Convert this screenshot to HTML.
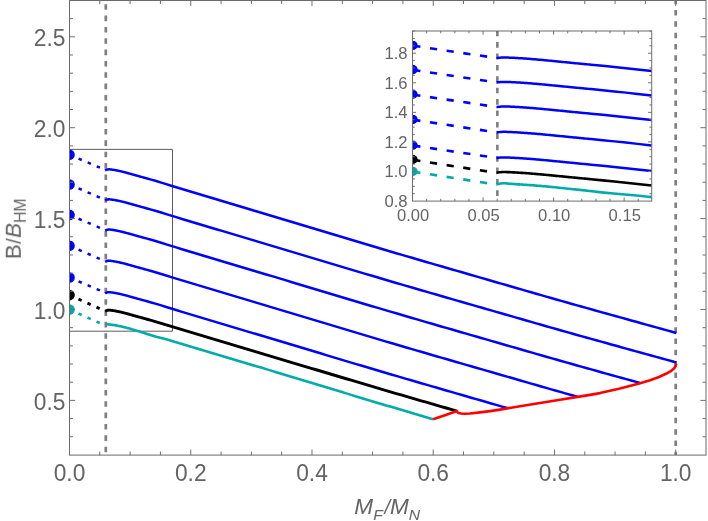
<!DOCTYPE html>
<html><head><meta charset="utf-8"><title>plot</title>
<style>html,body{margin:0;padding:0;background:#fff;}body{width:708px;height:521px;overflow:hidden;position:relative;font-family:"Liberation Sans",sans-serif;}</style></head>
<body>
<svg width="708" height="521" viewBox="0 0 708 521" style="position:absolute;left:0;top:0;font-family:'Liberation Sans',sans-serif">
<rect x="0" y="0" width="708" height="521" fill="#fff"/>
<defs><clipPath id="cm"><rect x="69.5" y="0.5" width="636.5" height="454.6"/></clipPath>
<clipPath id="ci"><rect x="412.5" y="31.0" width="239.20000000000005" height="170.1"/></clipPath></defs>
<g clip-path="url(#cm)" fill="none" stroke-linejoin="round">
<path d="M105.8,4.2 V455.1" stroke="#7f7f7f" stroke-width="2.7" stroke-dasharray="5.6 5.745"/>
<path d="M675.7,-1.36 V455.1" stroke="#7f7f7f" stroke-width="2.7" stroke-dasharray="5.5 5.83"/>
<rect x="64.5" y="149.4" width="108.0" height="181.79999999999998" stroke="#4a4a4a" stroke-width="0.9"/>
<path d="M105.20,170.48 L105.70,170.16 L106.20,169.90 L106.70,169.70 L107.20,169.55 L107.70,169.44 L108.20,169.38 L108.70,169.35 L109.20,169.34 L109.70,169.36 L110.20,169.40 L110.70,169.45 L111.20,169.52 L111.70,169.59 L112.20,169.66 L112.70,169.73 L113.20,169.81 L113.70,169.89 L114.20,169.97 L114.70,170.06 L115.20,170.14 L115.70,170.23 L116.20,170.32 L116.70,170.42 L117.20,170.52 L117.70,170.62 L118.20,170.72 L118.70,170.82 L119.20,170.93 L119.70,171.04 L120.20,171.15 L120.70,171.27 L121.20,171.39 L121.70,171.51 L122.20,171.63 L122.70,171.75 L123.20,171.88 L123.70,172.00 L124.20,172.13 L124.70,172.26 L125.20,172.40 L125.70,172.53 L126.20,172.66 L126.70,172.80 L127.20,172.94 L127.70,173.07 L128.20,173.21 L128.70,173.35 L129.20,173.49 L129.70,173.63 L130.20,173.77 L130.70,173.91 L131.20,174.05 L131.70,174.19 L132.20,174.33 L132.70,174.47 L133.20,174.61 L133.70,174.76 L134.20,174.90 L134.70,175.04 L135.20,175.18 L135.70,175.32 L136.20,175.46 L136.70,175.60 L137.20,175.74 L137.70,175.88 L138.20,176.02 L138.70,176.16 L139.20,176.30 L139.70,176.44 L140.20,176.58 L140.70,176.72 L141.20,176.85 L141.70,176.99 L142.20,177.13 L142.70,177.27 L143.20,177.40 L143.70,177.54 L144.20,177.68 L144.70,177.81 L145.20,177.95 L145.70,178.09 L146.20,178.23 L151.20,179.62 L156.20,181.07 L161.20,182.58 L166.20,184.14 L171.20,185.69 L176.20,187.23 L181.20,188.76 L186.20,190.27 L191.20,191.77 L196.20,193.27 L201.20,194.77 L206.20,196.26 L211.20,197.76 L216.20,199.26 L221.20,200.77 L226.20,202.27 L231.20,203.78 L236.20,205.28 L241.20,206.78 L246.20,208.28 L251.20,209.78 L256.20,211.27 L261.20,212.76 L266.20,214.26 L271.20,215.75 L276.20,217.25 L281.20,218.75 L286.20,220.26 L291.20,221.76 L296.20,223.27 L301.20,224.77 L306.20,226.28 L311.20,227.79 L316.20,229.29 L321.20,230.80 L326.20,232.31 L331.20,233.81 L336.20,235.31 L341.20,236.82 L346.20,238.32 L351.20,239.82 L356.20,241.31 L361.20,242.81 L366.20,244.30 L371.20,245.79 L376.20,247.27 L381.20,248.76 L386.20,250.23 L391.20,251.71 L396.20,253.18 L401.20,254.64 L406.20,256.11 L411.20,257.57 L416.20,259.03 L421.20,260.48 L426.20,261.94 L431.20,263.39 L436.20,264.84 L441.20,266.29 L446.20,267.74 L451.20,269.18 L456.20,270.63 L461.20,272.07 L466.20,273.52 L471.20,274.96 L476.20,276.40 L481.20,277.85 L486.20,279.29 L491.20,280.73 L496.20,282.18 L501.20,283.62 L506.20,285.06 L511.20,286.51 L516.20,287.95 L521.20,289.39 L526.20,290.83 L531.20,292.27 L536.20,293.72 L541.20,295.15 L546.20,296.59 L551.20,298.02 L556.20,299.44 L561.20,300.86 L566.20,302.28 L571.20,303.69 L576.20,305.10 L581.20,306.51 L586.20,307.91 L591.20,309.31 L596.20,310.70 L601.20,312.10 L606.20,313.49 L611.20,314.88 L616.20,316.27 L621.20,317.66 L626.20,319.05 L631.20,320.43 L636.20,321.82 L641.20,323.21 L646.20,324.60 L651.20,325.99 L656.20,327.38 L661.20,328.77 L666.20,330.16 L671.20,331.55 L676.20,332.94 L676.40,333.00" stroke="#0000ff" stroke-width="2.5"/>
<path d="M69.5,154.8 L105.8,170.1" stroke="#0000ff" stroke-width="2.5" stroke-dasharray="3.5 6.35" stroke-dashoffset="-9.85"/>
<circle cx="69.5" cy="154.8" r="5.3" fill="#0000ff" stroke="none"/>
<path d="M105.20,200.48 L105.70,200.16 L106.20,199.90 L106.70,199.70 L107.20,199.55 L107.70,199.44 L108.20,199.38 L108.70,199.35 L109.20,199.34 L109.70,199.36 L110.20,199.40 L110.70,199.45 L111.20,199.52 L111.70,199.59 L112.20,199.66 L112.70,199.73 L113.20,199.81 L113.70,199.89 L114.20,199.97 L114.70,200.06 L115.20,200.14 L115.70,200.23 L116.20,200.32 L116.70,200.42 L117.20,200.51 L117.70,200.61 L118.20,200.72 L118.70,200.82 L119.20,200.93 L119.70,201.04 L120.20,201.15 L120.70,201.26 L121.20,201.38 L121.70,201.50 L122.20,201.62 L122.70,201.75 L123.20,201.87 L123.70,202.00 L124.20,202.13 L124.70,202.26 L125.20,202.39 L125.70,202.52 L126.20,202.65 L126.70,202.79 L127.20,202.93 L127.70,203.06 L128.20,203.20 L128.70,203.34 L129.20,203.48 L129.70,203.62 L130.20,203.75 L130.70,203.89 L131.20,204.04 L131.70,204.18 L132.20,204.32 L132.70,204.46 L133.20,204.60 L133.70,204.74 L134.20,204.88 L134.70,205.02 L135.20,205.16 L135.70,205.30 L136.20,205.44 L136.70,205.59 L137.20,205.72 L137.70,205.86 L138.20,206.00 L138.70,206.14 L139.20,206.28 L139.70,206.42 L140.20,206.56 L140.70,206.69 L141.20,206.83 L141.70,206.97 L142.20,207.10 L142.70,207.24 L143.20,207.38 L143.70,207.51 L144.20,207.65 L144.70,207.79 L145.20,207.92 L145.70,208.06 L146.20,208.20 L151.20,209.59 L156.20,211.03 L161.20,212.54 L166.20,214.09 L171.20,215.64 L176.20,217.18 L181.20,218.70 L186.20,220.21 L191.20,221.70 L196.20,223.20 L201.20,224.69 L206.20,226.18 L211.20,227.68 L216.20,229.18 L221.20,230.67 L226.20,232.17 L231.20,233.67 L236.20,235.17 L241.20,236.67 L246.20,238.16 L251.20,239.66 L256.20,241.14 L261.20,242.63 L266.20,244.12 L271.20,245.62 L276.20,247.11 L281.20,248.61 L286.20,250.11 L291.20,251.60 L296.20,253.11 L301.20,254.61 L306.20,256.11 L311.20,257.61 L316.20,259.11 L321.20,260.62 L326.20,262.12 L331.20,263.62 L336.20,265.12 L341.20,266.62 L346.20,268.11 L351.20,269.61 L356.20,271.10 L361.20,272.59 L366.20,274.08 L371.20,275.56 L376.20,277.04 L381.20,278.52 L386.20,279.99 L391.20,281.46 L396.20,282.93 L401.20,284.39 L406.20,285.85 L411.20,287.31 L416.20,288.76 L421.20,290.21 L426.20,291.66 L431.20,293.11 L436.20,294.56 L441.20,296.00 L446.20,297.44 L451.20,298.88 L456.20,300.33 L461.20,301.76 L466.20,303.20 L471.20,304.64 L476.20,306.08 L481.20,307.52 L486.20,308.96 L491.20,310.40 L496.20,311.84 L501.20,313.28 L506.20,314.71 L511.20,316.15 L516.20,317.59 L521.20,319.03 L526.20,320.47 L531.20,321.90 L536.20,323.34 L541.20,324.77 L546.20,326.20 L551.20,327.63 L556.20,329.05 L561.20,330.47 L566.20,331.88 L571.20,333.29 L576.20,334.69 L581.20,336.09 L586.20,337.49 L591.20,338.88 L596.20,340.28 L601.20,341.67 L606.20,343.05 L611.20,344.44 L616.20,345.82 L621.20,347.21 L626.20,348.59 L631.20,349.97 L636.20,351.36 L641.20,352.74 L646.20,354.12 L651.20,355.51 L656.20,356.89 L661.20,358.28 L666.20,359.67 L671.20,361.05 L676.20,362.44 L676.40,362.50" stroke="#0000ff" stroke-width="2.5"/>
<path d="M69.5,184.5 L105.8,200.1" stroke="#0000ff" stroke-width="2.5" stroke-dasharray="3.5 6.35" stroke-dashoffset="-9.85"/>
<circle cx="69.5" cy="184.5" r="5.3" fill="#0000ff" stroke="none"/>
<path d="M105.20,230.68 L105.70,230.36 L106.20,230.10 L106.70,229.90 L107.20,229.75 L107.70,229.64 L108.20,229.58 L108.70,229.55 L109.20,229.54 L109.70,229.56 L110.20,229.60 L110.70,229.65 L111.20,229.72 L111.70,229.79 L112.20,229.86 L112.70,229.93 L113.20,230.01 L113.70,230.09 L114.20,230.17 L114.70,230.26 L115.20,230.34 L115.70,230.43 L116.20,230.52 L116.70,230.62 L117.20,230.72 L117.70,230.82 L118.20,230.92 L118.70,231.02 L119.20,231.13 L119.70,231.24 L120.20,231.35 L120.70,231.47 L121.20,231.59 L121.70,231.71 L122.20,231.83 L122.70,231.95 L123.20,232.08 L123.70,232.20 L124.20,232.33 L124.70,232.46 L125.20,232.59 L125.70,232.73 L126.20,232.86 L126.70,233.00 L127.20,233.13 L127.70,233.27 L128.20,233.41 L128.70,233.55 L129.20,233.69 L129.70,233.82 L130.20,233.96 L130.70,234.11 L131.20,234.25 L131.70,234.39 L132.20,234.53 L132.70,234.67 L133.20,234.81 L133.70,234.95 L134.20,235.09 L134.70,235.24 L135.20,235.38 L135.70,235.52 L136.20,235.66 L136.70,235.80 L137.20,235.94 L137.70,236.08 L138.20,236.22 L138.70,236.36 L139.20,236.50 L139.70,236.63 L140.20,236.77 L140.70,236.91 L141.20,237.05 L141.70,237.19 L142.20,237.32 L142.70,237.46 L143.20,237.60 L143.70,237.73 L144.20,237.87 L144.70,238.01 L145.20,238.15 L145.70,238.28 L146.20,238.42 L151.20,239.81 L156.20,241.26 L161.20,242.77 L166.20,244.33 L171.20,245.88 L176.20,247.42 L181.20,248.94 L186.20,250.45 L191.20,251.96 L196.20,253.45 L201.20,254.95 L206.20,256.44 L211.20,257.94 L216.20,259.44 L221.20,260.95 L226.20,262.45 L231.20,263.95 L236.20,265.46 L241.20,266.96 L246.20,268.45 L251.20,269.95 L256.20,271.44 L261.20,272.93 L266.20,274.43 L271.20,275.92 L276.20,277.42 L281.20,278.92 L286.20,280.42 L291.20,281.93 L296.20,283.43 L301.20,284.94 L306.20,286.44 L311.20,287.95 L316.20,289.45 L321.20,290.96 L326.20,292.46 L331.20,293.97 L336.20,295.47 L341.20,296.97 L346.20,298.47 L351.20,299.97 L356.20,301.47 L361.20,302.96 L366.20,304.45 L371.20,305.94 L376.20,307.42 L381.20,308.90 L386.20,310.38 L391.20,311.85 L396.20,313.32 L401.20,314.79 L406.20,316.25 L411.20,317.71 L416.20,319.17 L421.20,320.62 L426.20,322.08 L431.20,323.53 L436.20,324.98 L441.20,326.43 L446.20,327.87 L451.20,329.32 L456.20,330.76 L461.20,332.20 L466.20,333.65 L471.20,335.09 L476.20,336.53 L481.20,337.97 L486.20,339.42 L491.20,340.86 L496.20,342.30 L501.20,343.74 L506.20,345.19 L511.20,346.63 L516.20,348.07 L521.20,349.51 L526.20,350.95 L531.20,352.39 L536.20,353.83 L541.20,355.27 L546.20,356.70 L551.20,358.13 L556.20,359.55 L561.20,360.97 L566.20,362.39 L571.20,363.80 L576.20,365.21 L581.20,366.61 L586.20,368.02 L591.20,369.41 L596.20,370.81 L601.20,372.20 L606.20,373.59 L611.20,374.98 L616.20,376.37 L621.20,377.76 L626.20,379.15 L631.20,380.53 L636.20,381.92 L640.10,383.00" stroke="#0000ff" stroke-width="2.5"/>
<path d="M69.5,214.9 L105.8,230.29999999999998" stroke="#0000ff" stroke-width="2.5" stroke-dasharray="3.5 6.35" stroke-dashoffset="-9.85"/>
<circle cx="69.5" cy="214.9" r="5.3" fill="#0000ff" stroke="none"/>
<path d="M105.20,261.88 L105.70,261.56 L106.20,261.30 L106.70,261.10 L107.20,260.95 L107.70,260.84 L108.20,260.78 L108.70,260.75 L109.20,260.74 L109.70,260.76 L110.20,260.80 L110.70,260.85 L111.20,260.92 L111.70,260.99 L112.20,261.06 L112.70,261.13 L113.20,261.21 L113.70,261.29 L114.20,261.37 L114.70,261.46 L115.20,261.54 L115.70,261.63 L116.20,261.72 L116.70,261.82 L117.20,261.92 L117.70,262.02 L118.20,262.12 L118.70,262.22 L119.20,262.33 L119.70,262.44 L120.20,262.55 L120.70,262.67 L121.20,262.79 L121.70,262.91 L122.20,263.03 L122.70,263.15 L123.20,263.28 L123.70,263.40 L124.20,263.53 L124.70,263.66 L125.20,263.79 L125.70,263.93 L126.20,264.06 L126.70,264.20 L127.20,264.33 L127.70,264.47 L128.20,264.61 L128.70,264.75 L129.20,264.89 L129.70,265.02 L130.20,265.16 L130.70,265.31 L131.20,265.45 L131.70,265.59 L132.20,265.73 L132.70,265.87 L133.20,266.01 L133.70,266.15 L134.20,266.29 L134.70,266.44 L135.20,266.58 L135.70,266.72 L136.20,266.86 L136.70,267.00 L137.20,267.14 L137.70,267.28 L138.20,267.42 L138.70,267.56 L139.20,267.70 L139.70,267.83 L140.20,267.97 L140.70,268.11 L141.20,268.25 L141.70,268.39 L142.20,268.52 L142.70,268.66 L143.20,268.80 L143.70,268.93 L144.20,269.07 L144.70,269.21 L145.20,269.34 L145.70,269.48 L146.20,269.62 L151.20,271.01 L156.20,272.46 L161.20,273.97 L166.20,275.52 L171.20,277.08 L176.20,278.62 L181.20,280.14 L186.20,281.65 L191.20,283.16 L196.20,284.65 L201.20,286.15 L206.20,287.64 L211.20,289.14 L216.20,290.64 L221.20,292.15 L226.20,293.65 L231.20,295.15 L236.20,296.66 L241.20,298.16 L246.20,299.65 L251.20,301.15 L256.20,302.64 L261.20,304.13 L266.20,305.63 L271.20,307.12 L276.20,308.62 L281.20,310.12 L286.20,311.62 L291.20,313.12 L296.20,314.63 L301.20,316.13 L306.20,317.64 L311.20,319.15 L316.20,320.65 L321.20,322.16 L326.20,323.66 L331.20,325.17 L336.20,326.67 L341.20,328.17 L346.20,329.67 L351.20,331.17 L356.20,332.67 L361.20,334.16 L366.20,335.65 L371.20,337.14 L376.20,338.62 L381.20,340.10 L386.20,341.58 L391.20,343.05 L396.20,344.52 L401.20,345.99 L406.20,347.45 L411.20,348.91 L416.20,350.37 L421.20,351.82 L426.20,353.28 L431.20,354.73 L436.20,356.18 L441.20,357.62 L446.20,359.07 L451.20,360.51 L456.20,361.96 L461.20,363.40 L466.20,364.84 L471.20,366.29 L476.20,367.73 L481.20,369.17 L486.20,370.61 L491.20,372.06 L496.20,373.50 L501.20,374.94 L506.20,376.38 L511.20,377.82 L516.20,379.27 L521.20,380.71 L526.20,382.15 L531.20,383.59 L536.20,385.03 L541.20,386.47 L546.20,387.90 L551.20,389.33 L556.20,390.75 L561.20,392.17 L566.20,393.59 L571.20,395.00 L576.20,396.41 L577.60,396.80" stroke="#0000ff" stroke-width="2.5"/>
<path d="M69.5,245.8 L105.8,261.5" stroke="#0000ff" stroke-width="2.5" stroke-dasharray="3.5 6.35" stroke-dashoffset="-9.85"/>
<circle cx="69.5" cy="245.8" r="5.3" fill="#0000ff" stroke="none"/>
<path d="M105.20,293.33 L105.70,293.01 L106.20,292.75 L106.70,292.55 L107.20,292.40 L107.70,292.29 L108.20,292.23 L108.70,292.20 L109.20,292.19 L109.70,292.21 L110.20,292.25 L110.70,292.30 L111.20,292.37 L111.70,292.44 L112.20,292.51 L112.70,292.58 L113.20,292.66 L113.70,292.74 L114.20,292.82 L114.70,292.91 L115.20,292.99 L115.70,293.08 L116.20,293.17 L116.70,293.27 L117.20,293.37 L117.70,293.47 L118.20,293.57 L118.70,293.67 L119.20,293.78 L119.70,293.89 L120.20,294.00 L120.70,294.12 L121.20,294.23 L121.70,294.35 L122.20,294.48 L122.70,294.60 L123.20,294.72 L123.70,294.85 L124.20,294.98 L124.70,295.11 L125.20,295.24 L125.70,295.38 L126.20,295.51 L126.70,295.64 L127.20,295.78 L127.70,295.92 L128.20,296.06 L128.70,296.19 L129.20,296.33 L129.70,296.47 L130.20,296.61 L130.70,296.75 L131.20,296.89 L131.70,297.03 L132.20,297.18 L132.70,297.32 L133.20,297.46 L133.70,297.60 L134.20,297.74 L134.70,297.88 L135.20,298.02 L135.70,298.16 L136.20,298.31 L136.70,298.45 L137.20,298.59 L137.70,298.73 L138.20,298.87 L138.70,299.00 L139.20,299.14 L139.70,299.28 L140.20,299.42 L140.70,299.56 L141.20,299.69 L141.70,299.83 L142.20,299.97 L142.70,300.11 L143.20,300.24 L143.70,300.38 L144.20,300.52 L144.70,300.65 L145.20,300.79 L145.70,300.93 L146.20,301.06 L151.20,302.46 L156.20,303.90 L161.20,305.42 L166.20,306.97 L171.20,308.52 L176.20,310.06 L181.20,311.58 L186.20,313.09 L191.20,314.59 L196.20,316.09 L201.20,317.58 L206.20,319.08 L211.20,320.58 L216.20,322.08 L221.20,323.58 L226.20,325.08 L231.20,326.58 L236.20,328.09 L241.20,329.59 L246.20,331.08 L251.20,332.58 L256.20,334.07 L261.20,335.56 L266.20,337.05 L271.20,338.55 L276.20,340.04 L281.20,341.54 L286.20,343.04 L291.20,344.55 L296.20,346.05 L301.20,347.55 L306.20,349.06 L311.20,350.56 L316.20,352.07 L321.20,353.57 L326.20,355.08 L331.20,356.58 L336.20,358.08 L341.20,359.58 L346.20,361.08 L351.20,362.58 L356.20,364.08 L361.20,365.57 L366.20,367.06 L371.20,368.54 L376.20,370.03 L381.20,371.51 L386.20,372.98 L391.20,374.46 L396.20,375.92 L401.20,377.39 L406.20,378.85 L411.20,380.31 L416.20,381.77 L421.20,383.22 L426.20,384.67 L431.20,386.13 L436.20,387.57 L441.20,389.02 L446.20,390.47 L451.20,391.91 L456.20,393.35 L461.20,394.80 L466.20,396.24 L471.20,397.68 L476.20,399.12 L481.20,400.56 L486.20,402.00 L491.20,403.44 L496.20,404.89 L501.20,406.33 L506.20,407.77 L507.00,408.00" stroke="#0000ff" stroke-width="2.5"/>
<path d="M69.5,277.5 L105.8,292.95" stroke="#0000ff" stroke-width="2.5" stroke-dasharray="3.5 6.35" stroke-dashoffset="-9.85"/>
<circle cx="69.5" cy="277.5" r="5.3" fill="#0000ff" stroke="none"/>
<path d="M105.20,311.28 L105.70,310.96 L106.20,310.70 L106.70,310.50 L107.20,310.35 L107.70,310.24 L108.20,310.18 L108.70,310.15 L109.20,310.14 L109.70,310.16 L110.20,310.20 L110.70,310.25 L111.20,310.32 L111.70,310.39 L112.20,310.46 L112.70,310.53 L113.20,310.61 L113.70,310.69 L114.20,310.77 L114.70,310.86 L115.20,310.94 L115.70,311.03 L116.20,311.12 L116.70,311.22 L117.20,311.31 L117.70,311.41 L118.20,311.51 L118.70,311.62 L119.20,311.73 L119.70,311.84 L120.20,311.95 L120.70,312.06 L121.20,312.18 L121.70,312.30 L122.20,312.42 L122.70,312.54 L123.20,312.67 L123.70,312.79 L124.20,312.92 L124.70,313.05 L125.20,313.18 L125.70,313.31 L126.20,313.45 L126.70,313.58 L127.20,313.72 L127.70,313.85 L128.20,313.99 L128.70,314.13 L129.20,314.27 L129.70,314.40 L130.20,314.54 L130.70,314.68 L131.20,314.82 L131.70,314.96 L132.20,315.10 L132.70,315.25 L133.20,315.39 L133.70,315.53 L134.20,315.67 L134.70,315.81 L135.20,315.95 L135.70,316.09 L136.20,316.23 L136.70,316.37 L137.20,316.51 L137.70,316.65 L138.20,316.79 L138.70,316.92 L139.20,317.06 L139.70,317.20 L140.20,317.34 L140.70,317.47 L141.20,317.61 L141.70,317.75 L142.20,317.88 L142.70,318.02 L143.20,318.16 L143.70,318.29 L144.20,318.43 L144.70,318.57 L145.20,318.70 L145.70,318.84 L146.20,318.98 L151.20,320.36 L156.20,321.80 L161.20,323.31 L166.20,324.85 L171.20,326.40 L176.20,327.93 L181.20,329.45 L186.20,330.95 L191.20,332.45 L196.20,333.94 L201.20,335.43 L206.20,336.91 L211.20,338.41 L216.20,339.90 L221.20,341.40 L226.20,342.89 L231.20,344.39 L236.20,345.88 L241.20,347.38 L246.20,348.87 L251.20,350.35 L256.20,351.84 L261.20,353.32 L266.20,354.81 L271.20,356.30 L276.20,357.79 L281.20,359.28 L286.20,360.78 L291.20,362.27 L296.20,363.77 L301.20,365.27 L306.20,366.77 L311.20,368.27 L316.20,369.76 L321.20,371.26 L326.20,372.76 L331.20,374.26 L336.20,375.75 L341.20,377.25 L346.20,378.74 L351.20,380.23 L356.20,381.72 L361.20,383.21 L366.20,384.69 L371.20,386.17 L376.20,387.65 L381.20,389.12 L386.20,390.59 L391.20,392.05 L396.20,393.52 L401.20,394.98 L406.20,396.43 L411.20,397.89 L416.20,399.34 L421.20,400.78 L426.20,402.23 L431.20,403.67 L436.20,405.12 L441.20,406.56 L446.20,408.00 L451.20,409.43 L456.20,410.87 L457.00,411.10" stroke="#000000" stroke-width="2.9"/>
<path d="M69.5,295.1 L105.8,311.3" stroke="#000000" stroke-width="2.9" stroke-dasharray="3.5 6.35" stroke-dashoffset="-9.85"/>
<circle cx="69.5" cy="295.1" r="5.3" fill="#000000" stroke="none"/>
<path d="M106.70,324.19 L107.20,324.24 L107.70,324.30 L108.20,324.36 L108.70,324.42 L109.20,324.48 L109.70,324.54 L110.20,324.60 L110.70,324.66 L111.20,324.72 L111.70,324.78 L112.20,324.84 L112.70,324.90 L113.20,324.97 L113.70,325.04 L114.20,325.12 L114.70,325.19 L115.20,325.27 L115.70,325.36 L116.20,325.45 L116.70,325.54 L117.20,325.63 L117.70,325.73 L118.20,325.82 L118.70,325.92 L119.20,326.03 L119.70,326.13 L120.20,326.24 L120.70,326.35 L121.20,326.46 L121.70,326.57 L122.20,326.68 L122.70,326.80 L123.20,326.91 L123.70,327.03 L124.20,327.15 L124.70,327.27 L125.20,327.40 L125.70,327.53 L126.20,327.65 L126.70,327.78 L127.20,327.92 L127.70,328.05 L128.20,328.19 L128.70,328.33 L129.20,328.47 L129.70,328.62 L130.20,328.77 L130.70,328.91 L131.20,329.06 L131.70,329.21 L132.20,329.37 L132.70,329.52 L133.20,329.67 L133.70,329.83 L134.20,329.98 L134.70,330.13 L135.20,330.29 L135.70,330.44 L136.20,330.59 L136.70,330.74 L137.20,330.89 L137.70,331.03 L138.20,331.18 L138.70,331.33 L139.20,331.47 L139.70,331.62 L140.20,331.77 L140.70,331.92 L141.20,332.06 L141.70,332.22 L142.20,332.37 L142.70,332.52 L143.20,332.68 L143.70,332.84 L144.20,333.00 L144.70,333.17 L145.20,333.33 L145.70,333.50 L146.20,333.67 L151.20,335.28 L156.20,336.67 L161.20,337.91 L166.20,339.15 L171.20,340.63 L176.20,342.16 L181.20,343.68 L186.20,345.19 L191.20,346.69 L196.20,348.18 L201.20,349.67 L206.20,351.17 L211.20,352.66 L216.20,354.16 L221.20,355.66 L226.20,357.16 L231.20,358.66 L236.20,360.16 L241.20,361.65 L246.20,363.15 L251.20,364.64 L256.20,366.13 L261.20,367.61 L266.20,369.12 L271.20,370.63 L276.20,372.14 L281.20,373.65 L286.20,375.16 L291.20,376.68 L296.20,378.20 L301.20,379.71 L306.20,381.23 L311.20,382.75 L316.20,384.27 L321.20,385.79 L326.20,387.31 L331.20,388.82 L336.20,390.34 L341.20,391.86 L346.20,393.37 L351.20,394.88 L356.20,396.39 L361.20,397.89 L366.20,399.40 L371.20,400.90 L376.20,402.40 L381.20,403.89 L386.20,405.38 L391.20,406.86 L396.20,408.35 L401.20,409.83 L406.20,411.30 L411.20,412.78 L416.20,414.25 L421.20,415.71 L426.20,417.18 L431.20,418.64 L433.10,419.20" stroke="#00abab" stroke-width="2.6"/>
<path d="M69.5,309.6 L105.8,325.7" stroke="#00abab" stroke-width="2.6" stroke-dasharray="3.5 6.35" stroke-dashoffset="-9.85"/>
<circle cx="69.5" cy="309.6" r="5.3" fill="#00abab" stroke="none"/>
<path d="M433.10,419.20 L445.00,415.15 L456.90,411.10 L457.50,412.20 L458.60,413.00 L461.00,413.50 L464.80,413.70 L470.00,413.50 L480.00,412.40 L490.00,411.10 L500.00,409.60 L507.00,408.40 L520.00,406.20 L540.00,403.00 L560.00,399.80 L577.60,396.90 L590.00,394.90 L600.00,393.10 L620.00,388.50 L640.10,383.30 L650.00,380.20 L659.00,377.00 L666.00,373.80 L671.20,370.80 L674.20,368.20 L675.60,366.00 L676.20,363.60" stroke="#ff0000" stroke-width="2.6"/>
</g>
<rect x="69.5" y="0.5" width="636.5" height="454.6" fill="none" stroke="#6b6b6b" stroke-width="1"/>
<path d="M69.50,455.1 v-5.6 M69.50,0.5 v5.6 M99.81,455.1 v-3.6 M99.81,0.5 v3.6 M130.12,455.1 v-3.6 M130.12,0.5 v3.6 M160.43,455.1 v-3.6 M160.43,0.5 v3.6 M190.74,455.1 v-5.6 M190.74,0.5 v5.6 M221.05,455.1 v-3.6 M221.05,0.5 v3.6 M251.36,455.1 v-3.6 M251.36,0.5 v3.6 M281.67,455.1 v-3.6 M281.67,0.5 v3.6 M311.98,455.1 v-5.6 M311.98,0.5 v5.6 M342.29,455.1 v-3.6 M342.29,0.5 v3.6 M372.60,455.1 v-3.6 M372.60,0.5 v3.6 M402.91,455.1 v-3.6 M402.91,0.5 v3.6 M433.22,455.1 v-5.6 M433.22,0.5 v5.6 M463.53,455.1 v-3.6 M463.53,0.5 v3.6 M493.84,455.1 v-3.6 M493.84,0.5 v3.6 M524.15,455.1 v-3.6 M524.15,0.5 v3.6 M554.46,455.1 v-5.6 M554.46,0.5 v5.6 M584.77,455.1 v-3.6 M584.77,0.5 v3.6 M615.08,455.1 v-3.6 M615.08,0.5 v3.6 M645.39,455.1 v-3.6 M645.39,0.5 v3.6 M675.70,455.1 v-5.6 M675.70,0.5 v5.6 M69.5,436.76 h3.5 M706.0,436.76 h-3.5 M69.5,418.58 h3.5 M706.0,418.58 h-3.5 M69.5,400.40 h5.6 M706.0,400.40 h-5.6 M69.5,382.22 h3.5 M706.0,382.22 h-3.5 M69.5,364.04 h3.5 M706.0,364.04 h-3.5 M69.5,345.86 h3.5 M706.0,345.86 h-3.5 M69.5,327.68 h3.5 M706.0,327.68 h-3.5 M69.5,309.50 h5.6 M706.0,309.50 h-5.6 M69.5,291.32 h3.5 M706.0,291.32 h-3.5 M69.5,273.14 h3.5 M706.0,273.14 h-3.5 M69.5,254.96 h3.5 M706.0,254.96 h-3.5 M69.5,236.78 h3.5 M706.0,236.78 h-3.5 M69.5,218.60 h5.6 M706.0,218.60 h-5.6 M69.5,200.42 h3.5 M706.0,200.42 h-3.5 M69.5,182.24 h3.5 M706.0,182.24 h-3.5 M69.5,164.06 h3.5 M706.0,164.06 h-3.5 M69.5,145.88 h3.5 M706.0,145.88 h-3.5 M69.5,127.70 h5.6 M706.0,127.70 h-5.6 M69.5,109.52 h3.5 M706.0,109.52 h-3.5 M69.5,91.34 h3.5 M706.0,91.34 h-3.5 M69.5,73.16 h3.5 M706.0,73.16 h-3.5 M69.5,54.98 h3.5 M706.0,54.98 h-3.5 M69.5,36.80 h5.6 M706.0,36.80 h-5.6 M69.5,18.62 h3.5 M706.0,18.62 h-3.5" stroke="#707070" stroke-width="1" fill="none"/>
<rect x="412.5" y="31.0" width="239.20000000000005" height="170.1" fill="#fff" stroke="none"/>
<g clip-path="url(#ci)" fill="none" stroke-linejoin="round">
<path d="M497.36,30.7 V201.1" stroke="#7f7f7f" stroke-width="2.6" stroke-dasharray="5.6 5.8"/>
<path d="M496.76,58.15 L497.92,57.94 L499.09,57.77 L500.25,57.65 L501.41,57.57 L502.58,57.52 L503.74,57.49 L504.91,57.49 L506.07,57.50 L507.23,57.53 L508.40,57.58 L509.56,57.63 L510.73,57.69 L511.89,57.74 L513.05,57.81 L514.22,57.87 L515.38,57.93 L516.54,58.00 L517.71,58.07 L518.87,58.14 L520.04,58.21 L521.20,58.29 L522.36,58.36 L523.53,58.44 L524.69,58.52 L525.85,58.61 L527.02,58.69 L528.18,58.78 L529.35,58.87 L530.51,58.96 L531.67,59.06 L532.84,59.15 L534.00,59.25 L535.17,59.35 L536.33,59.45 L537.49,59.55 L538.66,59.65 L539.82,59.76 L540.98,59.86 L542.15,59.97 L543.31,60.08 L544.48,60.19 L545.64,60.30 L546.80,60.41 L547.97,60.52 L549.13,60.63 L550.29,60.75 L551.46,60.86 L552.62,60.97 L553.79,61.09 L554.95,61.20 L556.11,61.32 L557.28,61.43 L558.44,61.55 L559.61,61.66 L560.77,61.78 L561.93,61.89 L563.10,62.01 L564.26,62.12 L565.42,62.24 L566.59,62.35 L567.75,62.47 L568.92,62.58 L570.08,62.70 L571.24,62.81 L572.41,62.92 L573.57,63.04 L574.73,63.15 L575.90,63.26 L577.06,63.37 L578.23,63.49 L579.39,63.60 L580.55,63.71 L581.72,63.82 L582.88,63.93 L584.05,64.04 L585.21,64.16 L586.37,64.27 L587.54,64.38 L588.70,64.49 L589.86,64.60 L591.03,64.71 L602.67,65.85 L614.30,67.03 L625.94,68.26 L637.58,69.52 L649.22,70.79 L660.86,72.04 L672.49,73.28 L684.13,74.51" stroke="#0000ff" stroke-width="2.5"/>
<path d="M412.5,45.66 L497.16,58.10" stroke="#0000ff" stroke-width="2.60" stroke-dasharray="7.2 9.65" stroke-dashoffset="-0.8"/>
<ellipse cx="412.5" cy="45.41" rx="5.2" ry="4.7" fill="#0000ff" stroke="none"/>
<path d="M496.76,82.56 L497.92,82.34 L499.09,82.18 L500.25,82.06 L501.41,81.97 L502.58,81.92 L503.74,81.90 L504.91,81.89 L506.07,81.91 L507.23,81.94 L508.40,81.98 L509.56,82.03 L510.73,82.09 L511.89,82.15 L513.05,82.21 L514.22,82.27 L515.38,82.34 L516.54,82.41 L517.71,82.47 L518.87,82.54 L520.04,82.62 L521.20,82.69 L522.36,82.77 L523.53,82.85 L524.69,82.93 L525.85,83.01 L527.02,83.10 L528.18,83.18 L529.35,83.27 L530.51,83.36 L531.67,83.46 L532.84,83.55 L534.00,83.65 L535.17,83.75 L536.33,83.85 L537.49,83.95 L538.66,84.05 L539.82,84.16 L540.98,84.26 L542.15,84.37 L543.31,84.48 L544.48,84.59 L545.64,84.70 L546.80,84.81 L547.97,84.92 L549.13,85.03 L550.29,85.14 L551.46,85.26 L552.62,85.37 L553.79,85.48 L554.95,85.60 L556.11,85.71 L557.28,85.83 L558.44,85.94 L559.61,86.05 L560.77,86.17 L561.93,86.28 L563.10,86.40 L564.26,86.51 L565.42,86.63 L566.59,86.74 L567.75,86.86 L568.92,86.97 L570.08,87.09 L571.24,87.20 L572.41,87.31 L573.57,87.43 L574.73,87.54 L575.90,87.65 L577.06,87.76 L578.23,87.87 L579.39,87.99 L580.55,88.10 L581.72,88.21 L582.88,88.32 L584.05,88.43 L585.21,88.54 L586.37,88.65 L587.54,88.76 L588.70,88.88 L589.86,88.99 L591.03,89.10 L602.67,90.23 L614.30,91.40 L625.94,92.63 L637.58,93.89 L649.22,95.15 L660.86,96.40 L672.49,97.64 L684.13,98.87" stroke="#0000ff" stroke-width="2.5"/>
<path d="M412.5,69.82 L497.16,82.51" stroke="#0000ff" stroke-width="2.60" stroke-dasharray="7.2 9.65" stroke-dashoffset="-0.8"/>
<ellipse cx="412.5" cy="69.57" rx="5.2" ry="4.7" fill="#0000ff" stroke="none"/>
<path d="M496.76,107.12 L497.92,106.91 L499.09,106.75 L500.25,106.63 L501.41,106.54 L502.58,106.49 L503.74,106.46 L504.91,106.46 L506.07,106.48 L507.23,106.51 L508.40,106.55 L509.56,106.60 L510.73,106.66 L511.89,106.72 L513.05,106.78 L514.22,106.84 L515.38,106.91 L516.54,106.97 L517.71,107.04 L518.87,107.11 L520.04,107.19 L521.20,107.26 L522.36,107.34 L523.53,107.42 L524.69,107.50 L525.85,107.58 L527.02,107.67 L528.18,107.75 L529.35,107.84 L530.51,107.94 L531.67,108.03 L532.84,108.12 L534.00,108.22 L535.17,108.32 L536.33,108.42 L537.49,108.52 L538.66,108.63 L539.82,108.73 L540.98,108.84 L542.15,108.94 L543.31,109.05 L544.48,109.16 L545.64,109.27 L546.80,109.38 L547.97,109.49 L549.13,109.61 L550.29,109.72 L551.46,109.83 L552.62,109.95 L553.79,110.06 L554.95,110.17 L556.11,110.29 L557.28,110.40 L558.44,110.52 L559.61,110.63 L560.77,110.75 L561.93,110.86 L563.10,110.98 L564.26,111.09 L565.42,111.21 L566.59,111.32 L567.75,111.44 L568.92,111.55 L570.08,111.67 L571.24,111.78 L572.41,111.89 L573.57,112.01 L574.73,112.12 L575.90,112.23 L577.06,112.34 L578.23,112.46 L579.39,112.57 L580.55,112.68 L581.72,112.79 L582.88,112.90 L584.05,113.01 L585.21,113.13 L586.37,113.24 L587.54,113.35 L588.70,113.46 L589.86,113.57 L591.03,113.68 L602.67,114.82 L614.30,116.00 L625.94,117.23 L637.58,118.49 L649.22,119.75 L660.86,121.01 L672.49,122.24 L684.13,123.47" stroke="#0000ff" stroke-width="2.5"/>
<path d="M412.5,94.55 L497.16,107.08" stroke="#0000ff" stroke-width="2.60" stroke-dasharray="7.2 9.65" stroke-dashoffset="-0.8"/>
<ellipse cx="412.5" cy="94.30" rx="5.2" ry="4.7" fill="#0000ff" stroke="none"/>
<path d="M496.76,132.51 L497.92,132.30 L499.09,132.13 L500.25,132.01 L501.41,131.93 L502.58,131.87 L503.74,131.85 L504.91,131.84 L506.07,131.86 L507.23,131.89 L508.40,131.93 L509.56,131.98 L510.73,132.04 L511.89,132.10 L513.05,132.16 L514.22,132.23 L515.38,132.29 L516.54,132.36 L517.71,132.42 L518.87,132.50 L520.04,132.57 L521.20,132.64 L522.36,132.72 L523.53,132.80 L524.69,132.88 L525.85,132.96 L527.02,133.05 L528.18,133.14 L529.35,133.23 L530.51,133.32 L531.67,133.41 L532.84,133.51 L534.00,133.60 L535.17,133.70 L536.33,133.80 L537.49,133.91 L538.66,134.01 L539.82,134.11 L540.98,134.22 L542.15,134.33 L543.31,134.44 L544.48,134.54 L545.64,134.65 L546.80,134.77 L547.97,134.88 L549.13,134.99 L550.29,135.10 L551.46,135.21 L552.62,135.33 L553.79,135.44 L554.95,135.56 L556.11,135.67 L557.28,135.79 L558.44,135.90 L559.61,136.02 L560.77,136.13 L561.93,136.25 L563.10,136.36 L564.26,136.48 L565.42,136.59 L566.59,136.71 L567.75,136.82 L568.92,136.93 L570.08,137.05 L571.24,137.16 L572.41,137.28 L573.57,137.39 L574.73,137.50 L575.90,137.61 L577.06,137.73 L578.23,137.84 L579.39,137.95 L580.55,138.06 L581.72,138.17 L582.88,138.29 L584.05,138.40 L585.21,138.51 L586.37,138.62 L587.54,138.73 L588.70,138.84 L589.86,138.95 L591.03,139.07 L602.67,140.20 L614.30,141.38 L625.94,142.61 L637.58,143.87 L649.22,145.14 L660.86,146.39 L672.49,147.63 L684.13,148.86" stroke="#0000ff" stroke-width="2.5"/>
<path d="M412.5,119.69 L497.16,132.46" stroke="#0000ff" stroke-width="2.60" stroke-dasharray="7.2 9.65" stroke-dashoffset="-0.8"/>
<ellipse cx="412.5" cy="119.44" rx="5.2" ry="4.7" fill="#0000ff" stroke="none"/>
<path d="M496.76,158.09 L497.92,157.88 L499.09,157.72 L500.25,157.60 L501.41,157.51 L502.58,157.46 L503.74,157.43 L504.91,157.43 L506.07,157.44 L507.23,157.48 L508.40,157.52 L509.56,157.57 L510.73,157.63 L511.89,157.69 L513.05,157.75 L514.22,157.81 L515.38,157.88 L516.54,157.94 L517.71,158.01 L518.87,158.08 L520.04,158.15 L521.20,158.23 L522.36,158.30 L523.53,158.38 L524.69,158.47 L525.85,158.55 L527.02,158.63 L528.18,158.72 L529.35,158.81 L530.51,158.90 L531.67,159.00 L532.84,159.09 L534.00,159.19 L535.17,159.29 L536.33,159.39 L537.49,159.49 L538.66,159.59 L539.82,159.70 L540.98,159.80 L542.15,159.91 L543.31,160.02 L544.48,160.13 L545.64,160.24 L546.80,160.35 L547.97,160.46 L549.13,160.57 L550.29,160.69 L551.46,160.80 L552.62,160.91 L553.79,161.03 L554.95,161.14 L556.11,161.25 L557.28,161.37 L558.44,161.48 L559.61,161.60 L560.77,161.71 L561.93,161.83 L563.10,161.94 L564.26,162.06 L565.42,162.17 L566.59,162.29 L567.75,162.40 L568.92,162.52 L570.08,162.63 L571.24,162.74 L572.41,162.86 L573.57,162.97 L574.73,163.08 L575.90,163.20 L577.06,163.31 L578.23,163.42 L579.39,163.53 L580.55,163.64 L581.72,163.76 L582.88,163.87 L584.05,163.98 L585.21,164.09 L586.37,164.20 L587.54,164.31 L588.70,164.42 L589.86,164.54 L591.03,164.65 L602.67,165.78 L614.30,166.96 L625.94,168.19 L637.58,169.45 L649.22,170.71 L660.86,171.96 L672.49,173.20 L684.13,174.43" stroke="#0000ff" stroke-width="2.5"/>
<path d="M412.5,145.48 L497.16,158.05" stroke="#0000ff" stroke-width="2.60" stroke-dasharray="7.2 9.65" stroke-dashoffset="-0.8"/>
<ellipse cx="412.5" cy="145.23" rx="5.2" ry="4.7" fill="#0000ff" stroke="none"/>
<path d="M496.76,172.70 L497.92,172.48 L499.09,172.32 L500.25,172.20 L501.41,172.11 L502.58,172.06 L503.74,172.04 L504.91,172.03 L506.07,172.05 L507.23,172.08 L508.40,172.12 L509.56,172.17 L510.73,172.23 L511.89,172.29 L513.05,172.35 L514.22,172.41 L515.38,172.48 L516.54,172.54 L517.71,172.61 L518.87,172.68 L520.04,172.76 L521.20,172.83 L522.36,172.91 L523.53,172.99 L524.69,173.07 L525.85,173.15 L527.02,173.23 L528.18,173.32 L529.35,173.41 L530.51,173.50 L531.67,173.59 L532.84,173.69 L534.00,173.79 L535.17,173.88 L536.33,173.98 L537.49,174.09 L538.66,174.19 L539.82,174.29 L540.98,174.40 L542.15,174.50 L543.31,174.61 L544.48,174.72 L545.64,174.83 L546.80,174.94 L547.97,175.05 L549.13,175.16 L550.29,175.27 L551.46,175.39 L552.62,175.50 L553.79,175.61 L554.95,175.73 L556.11,175.84 L557.28,175.96 L558.44,176.07 L559.61,176.18 L560.77,176.30 L561.93,176.41 L563.10,176.53 L564.26,176.64 L565.42,176.76 L566.59,176.87 L567.75,176.98 L568.92,177.10 L570.08,177.21 L571.24,177.33 L572.41,177.44 L573.57,177.55 L574.73,177.66 L575.90,177.77 L577.06,177.89 L578.23,178.00 L579.39,178.11 L580.55,178.22 L581.72,178.33 L582.88,178.44 L584.05,178.55 L585.21,178.66 L586.37,178.77 L587.54,178.89 L588.70,179.00 L589.86,179.11 L591.03,179.22 L602.67,180.35 L614.30,181.52 L625.94,182.74 L637.58,184.00 L649.22,185.26 L660.86,186.50 L672.49,187.74 L684.13,188.96" stroke="#000000" stroke-width="2.6"/>
<path d="M412.5,159.80 L497.16,172.97" stroke="#000000" stroke-width="2.70" stroke-dasharray="7.2 9.65" stroke-dashoffset="-0.8"/>
<ellipse cx="412.5" cy="159.55" rx="5.2" ry="4.7" fill="#000000" stroke="none"/>
<path d="M496.99,184.45 L498.16,184.06 L499.32,183.75 L500.48,183.53 L501.65,183.38 L502.81,183.31 L503.98,183.29 L505.14,183.32 L506.30,183.39 L507.47,183.49 L508.63,183.59 L509.79,183.69 L510.96,183.80 L512.12,183.89 L513.29,183.99 L514.45,184.08 L515.61,184.17 L516.78,184.25 L517.94,184.34 L519.10,184.42 L520.27,184.50 L521.43,184.57 L522.60,184.65 L523.76,184.72 L524.92,184.80 L526.09,184.87 L527.25,184.94 L528.42,185.02 L529.58,185.09 L530.74,185.16 L531.91,185.24 L533.07,185.32 L534.23,185.41 L535.40,185.51 L536.56,185.60 L537.73,185.70 L538.89,185.79 L540.05,185.89 L541.22,185.99 L542.38,186.09 L543.54,186.19 L544.71,186.30 L545.87,186.41 L547.04,186.52 L548.20,186.63 L549.36,186.74 L550.53,186.85 L551.69,186.97 L552.86,187.09 L554.02,187.21 L555.18,187.33 L556.35,187.45 L557.51,187.57 L558.67,187.70 L559.84,187.82 L561.00,187.95 L562.17,188.07 L563.33,188.20 L564.49,188.32 L565.66,188.45 L566.82,188.57 L567.98,188.69 L569.15,188.81 L570.31,188.93 L571.48,189.05 L572.64,189.17 L573.80,189.29 L574.97,189.41 L576.13,189.53 L577.30,189.65 L578.46,189.77 L579.62,189.89 L580.79,190.01 L581.95,190.14 L583.11,190.26 L584.28,190.39 L585.44,190.52 L586.61,190.65 L587.77,190.79 L588.93,190.93 L590.10,191.06 L601.74,192.38 L613.37,193.53 L625.01,194.55 L636.65,195.54 L648.29,196.73 L659.93,197.98 L671.56,199.22 L683.20,200.45" stroke="#00abab" stroke-width="2.6"/>
<path d="M412.5,171.59 L497.16,184.69" stroke="#00abab" stroke-width="2.70" stroke-dasharray="7.2 9.65" stroke-dashoffset="-0.8"/>
<ellipse cx="412.5" cy="171.34" rx="5.2" ry="4.7" fill="#00abab" stroke="none"/>
</g>
<rect x="412.5" y="31.0" width="239.20000000000005" height="170.1" fill="none" stroke="#6b6b6b" stroke-width="1"/>
<path d="M412.50,201.1 v-3.6 M412.50,31.0 v3.6 M426.61,201.1 v-2.3 M426.61,31.0 v2.3 M440.72,201.1 v-2.3 M440.72,31.0 v2.3 M454.83,201.1 v-2.3 M454.83,31.0 v2.3 M468.94,201.1 v-2.3 M468.94,31.0 v2.3 M483.05,201.1 v-3.6 M483.05,31.0 v3.6 M497.16,201.1 v-2.3 M497.16,31.0 v2.3 M511.27,201.1 v-2.3 M511.27,31.0 v2.3 M525.38,201.1 v-2.3 M525.38,31.0 v2.3 M539.49,201.1 v-2.3 M539.49,31.0 v2.3 M553.60,201.1 v-3.6 M553.60,31.0 v3.6 M567.71,201.1 v-2.3 M567.71,31.0 v2.3 M581.82,201.1 v-2.3 M581.82,31.0 v2.3 M595.93,201.1 v-2.3 M595.93,31.0 v2.3 M610.04,201.1 v-2.3 M610.04,31.0 v2.3 M624.15,201.1 v-3.6 M624.15,31.0 v3.6 M638.26,201.1 v-2.3 M638.26,31.0 v2.3 M412.5,193.69 h2.3 M651.7,193.69 h-2.3 M412.5,186.30 h2.3 M651.7,186.30 h-2.3 M412.5,178.91 h2.3 M651.7,178.91 h-2.3 M412.5,171.51 h3.6 M651.7,171.51 h-3.6 M412.5,164.12 h2.3 M651.7,164.12 h-2.3 M412.5,156.72 h2.3 M651.7,156.72 h-2.3 M412.5,149.32 h2.3 M651.7,149.32 h-2.3 M412.5,141.93 h3.6 M651.7,141.93 h-3.6 M412.5,134.54 h2.3 M651.7,134.54 h-2.3 M412.5,127.14 h2.3 M651.7,127.14 h-2.3 M412.5,119.74 h2.3 M651.7,119.74 h-2.3 M412.5,112.35 h3.6 M651.7,112.35 h-3.6 M412.5,104.95 h2.3 M651.7,104.95 h-2.3 M412.5,97.56 h2.3 M651.7,97.56 h-2.3 M412.5,90.16 h2.3 M651.7,90.16 h-2.3 M412.5,82.77 h3.6 M651.7,82.77 h-3.6 M412.5,75.37 h2.3 M651.7,75.37 h-2.3 M412.5,67.98 h2.3 M651.7,67.98 h-2.3 M412.5,60.59 h2.3 M651.7,60.59 h-2.3 M412.5,53.19 h3.6 M651.7,53.19 h-3.6 M412.5,45.79 h2.3 M651.7,45.79 h-2.3 M412.5,38.40 h2.3 M651.7,38.40 h-2.3 M412.5,31.00 h2.3 M651.7,31.00 h-2.3" stroke="#707070" stroke-width="1" fill="none"/>
<g opacity="0.999">
<text transform="translate(69.50,480.70) scale(1.012,1.068)" font-size="22.5" fill="#646464" text-anchor="middle">0.0</text>
<text transform="translate(190.74,480.70) scale(1.012,1.068)" font-size="22.5" fill="#646464" text-anchor="middle">0.2</text>
<text transform="translate(311.98,480.70) scale(1.012,1.068)" font-size="22.5" fill="#646464" text-anchor="middle">0.4</text>
<text transform="translate(433.22,480.70) scale(1.012,1.068)" font-size="22.5" fill="#646464" text-anchor="middle">0.6</text>
<text transform="translate(554.46,480.70) scale(1.012,1.068)" font-size="22.5" fill="#646464" text-anchor="middle">0.8</text>
<text transform="translate(675.70,480.70) scale(1.012,1.068)" font-size="22.5" fill="#646464" text-anchor="middle">1.0</text>
<text transform="translate(65.40,409.70) scale(1.012,1.068)" font-size="22.5" fill="#646464" text-anchor="end">0.5</text>
<text transform="translate(65.40,318.80) scale(1.012,1.068)" font-size="22.5" fill="#646464" text-anchor="end">1.0</text>
<text transform="translate(65.40,227.90) scale(1.012,1.068)" font-size="22.5" fill="#646464" text-anchor="end">1.5</text>
<text transform="translate(65.40,137.00) scale(1.012,1.068)" font-size="22.5" fill="#646464" text-anchor="end">2.0</text>
<text transform="translate(65.40,46.10) scale(1.012,1.068)" font-size="22.5" fill="#646464" text-anchor="end">2.5</text>
<text transform="translate(354.30,514.40) scale(1.005,0.98)" font-size="22.5" fill="#646464" text-anchor="start" font-style="italic">M<tspan font-size="15.6" dy="5.3">F</tspan><tspan dy="-5.3" dx="1.8" font-size="20">/</tspan><tspan dx="-0.2" font-size="22.5">M</tspan><tspan font-size="15.6" dy="5.3">N</tspan></text>
<text transform="translate(20.80,259.20) rotate(-90) scale(1.0,1.0)" font-size="22.5" fill="#646464" text-anchor="start">B<tspan font-size="20" dx="0.3">/</tspan><tspan font-style="italic" font-size="22.5" dx="0.3">B</tspan><tspan font-size="15.8" dy="5.0">HM</tspan></text>
<text transform="translate(413.10,221.10) scale(1.0,1.01)" font-size="16.6" fill="#646464" text-anchor="middle">0.00</text>
<text transform="translate(483.65,221.10) scale(1.0,1.01)" font-size="16.6" fill="#646464" text-anchor="middle">0.05</text>
<text transform="translate(554.20,221.10) scale(1.0,1.01)" font-size="16.6" fill="#646464" text-anchor="middle">0.10</text>
<text transform="translate(624.75,221.10) scale(1.0,1.01)" font-size="16.6" fill="#646464" text-anchor="middle">0.15</text>
<text transform="translate(407.60,206.99) scale(1.0,1.01)" font-size="16.6" fill="#646464" text-anchor="end">0.8</text>
<text transform="translate(407.60,177.41) scale(1.0,1.01)" font-size="16.6" fill="#646464" text-anchor="end">1.0</text>
<text transform="translate(407.60,147.83) scale(1.0,1.01)" font-size="16.6" fill="#646464" text-anchor="end">1.2</text>
<text transform="translate(407.60,118.25) scale(1.0,1.01)" font-size="16.6" fill="#646464" text-anchor="end">1.4</text>
<text transform="translate(407.60,88.67) scale(1.0,1.01)" font-size="16.6" fill="#646464" text-anchor="end">1.6</text>
<text transform="translate(407.60,59.09) scale(1.0,1.01)" font-size="16.6" fill="#646464" text-anchor="end">1.8</text>
</g>
</svg>
</body></html>
